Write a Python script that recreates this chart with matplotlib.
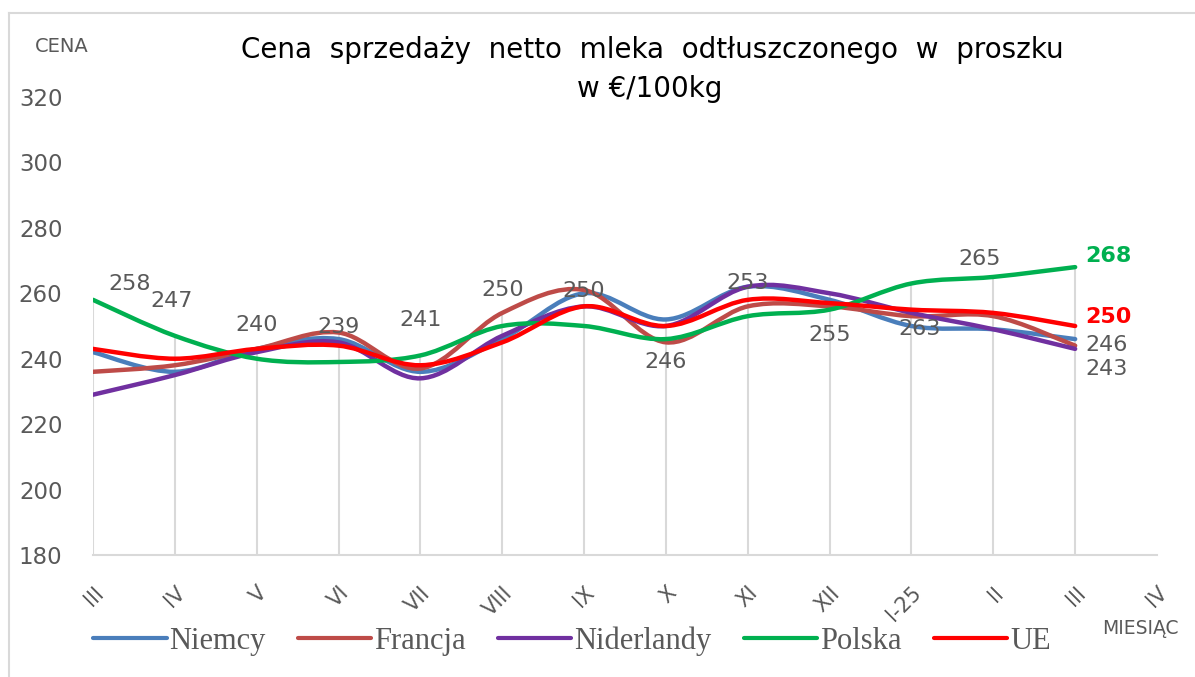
import numpy as np
import matplotlib.pyplot as plt
from matplotlib.path import Path
from matplotlib.patches import PathPatch
from matplotlib.lines import Line2D

# --- data ---
months = ['III', 'IV', 'V', 'VI', 'VII', 'VIII', 'IX', 'X', 'XI', 'XII', 'I-25', 'II', 'III', 'IV']
niemcy = [242, 236, 243, 246, 236, 246, 260, 252, 262, 258, 250, 249, 246]
francja = [236, 238, 243, 248, 237, 254, 261, 245, 256, 256, 253, 253, 244]
niderlandy = [229, 235, 242, 245, 234, 247, 256, 250, 262, 260, 254, 249, 243]
polska = [258, 247, 240, 239, 241, 250, 250, 246, 253, 255, 263, 265, 268]
ue = [243, 240, 243, 244, 238, 245, 256, 250, 258, 257, 255, 254, 250]

series = [
    ('Niemcy', niemcy, '#4a7ebb'),
    ('Francja', francja, '#be4b48'),
    ('Niderlandy', niderlandy, '#7030a0'),
    ('Polska', polska, '#00b050'),
    ('UE', ue, '#ff0000'),
]

# label offsets (pixels) for the Polska data labels
polska_offsets = [(37, 16), (-3, 35), (0, 34), (0, 35), (0, 35), (0, 36), (0, 35),
                  (0, -23), (0, 33), (0, -25), (8, -46), (-14, 18)]

GRAY = '#595959'
FONT = 'DejaVu Sans'
W, H = 1195, 677


def smooth_path(xs, ys):
    # Excel-like smoothed line: cubic Bezier segments (Catmull-Rom control points)
    pts = np.column_stack([xs, ys]).astype(float)
    n = len(pts)
    verts = [pts[0]]
    codes = [Path.MOVETO]
    for i in range(n - 1):
        p0 = pts[max(i - 1, 0)]
        p1 = pts[i]
        p2 = pts[i + 1]
        p3 = pts[min(i + 2, n - 1)]
        c1 = p1 + (p2 - p0) / 6.0
        c2 = p2 - (p3 - p1) / 6.0
        verts += [c1, c2, p2]
        codes += [Path.CURVE4] * 3
    return Path(verts, codes)


fig = plt.figure(figsize=(W / 100, H / 100), dpi=100)
ax = fig.add_axes([93 / W, 1 - 555 / H, (1157 - 93) / W, (555 - 97) / H])
ax.set_xlim(0, 13)
ax.set_ylim(180, 320)

x = np.arange(len(polska))

# drop lines from the highest point down to the axis
tops = np.max([s[1] for s in series], axis=0)
ax.vlines(x, 180, tops, color='#d9d9d9', lw=1.5, zorder=1)

for name, vals, col in series:
    p = PathPatch(smooth_path(x, vals), facecolor='none', edgecolor=col,
                  lw=3.2, capstyle='round', joinstyle='round', zorder=3)
    ax.add_patch(p)

# data labels
for i, (dx, dy) in enumerate(polska_offsets):
    ax.annotate(str(polska[i]), (x[i], polska[i]), xytext=(dx, dy), textcoords='offset pixels',
                ha='center', va='center', fontsize=16, color=GRAY, family=FONT, zorder=4)

last = len(polska) - 1
end_labels = [
    (polska[last], '#00b050', 'bold', 11),
    (ue[last], '#ff0000', 'bold', 9),
    (niemcy[last], GRAY, 'normal', -6),
    (niderlandy[last], GRAY, 'normal', -20),
]
for val, col, wt, dy in end_labels:
    ax.annotate(str(val), (last, val), xytext=(10, dy), textcoords='offset pixels',
                ha='left', va='center', fontsize=16, color=col, fontweight=wt, family=FONT)

# axes styling
for s in ['top', 'right', 'left']:
    ax.spines[s].set_visible(False)
ax.spines['bottom'].set_color('#d9d9d9')
ax.spines['bottom'].set_linewidth(1.5)

ax.set_yticks(range(180, 321, 20))
ax.tick_params(axis='y', length=0, pad=22, labelsize=16.5, labelcolor=GRAY)
ax.set_xticks(range(len(months)))
ax.set_xticklabels(months, rotation=45, ha='right', va='top', rotation_mode='anchor')
ax.tick_params(axis='x', length=0, pad=20, labelsize=15, labelcolor=GRAY)
for lab in ax.get_xticklabels() + ax.get_yticklabels():
    lab.set_family(FONT)

# titles and axis captions
fig.text(652 / W, 1 - 50 / H, 'Cena  sprzedaży  netto  mleka  odtłuszczonego  w  proszku',
         ha='center', va='center', fontsize=20, color='black', family=FONT)
fig.text(650 / W, 1 - 89 / H, 'w €/100kg', ha='center', va='center', fontsize=20,
         color='black', family=FONT)
fig.text(35 / W, 1 - 47 / H, 'CENA', ha='left', va='center', fontsize=14, color=GRAY, family=FONT)
fig.text(1102 / W, 1 - 629 / H, 'MIESIĄC', ha='left', va='center', fontsize=13.5, color=GRAY, family=FONT)

# legend
handles = [Line2D([], [], color=col, lw=3, solid_capstyle='round') for _, _, col in series]
fig.legend(handles, [s[0] for s in series], loc='center', bbox_to_anchor=(572 / W, 1 - 641 / H),
           ncol=5, frameon=False, prop={'family': 'Liberation Serif', 'size': 22},
           labelcolor=GRAY, handlelength=2.4, handletextpad=0.1, columnspacing=1.05)

# chart area border (left and top edges)
fig.add_artist(Line2D([9 / W, 9 / W], [0, 1 - 13 / H], transform=fig.transFigure, color='#d9d9d9', lw=1.5))
fig.add_artist(Line2D([9 / W, 1], [1 - 13 / H, 1 - 13 / H], transform=fig.transFigure, color='#d9d9d9', lw=1.5))

fig.savefig('out.png', dpi=100, facecolor='white')
